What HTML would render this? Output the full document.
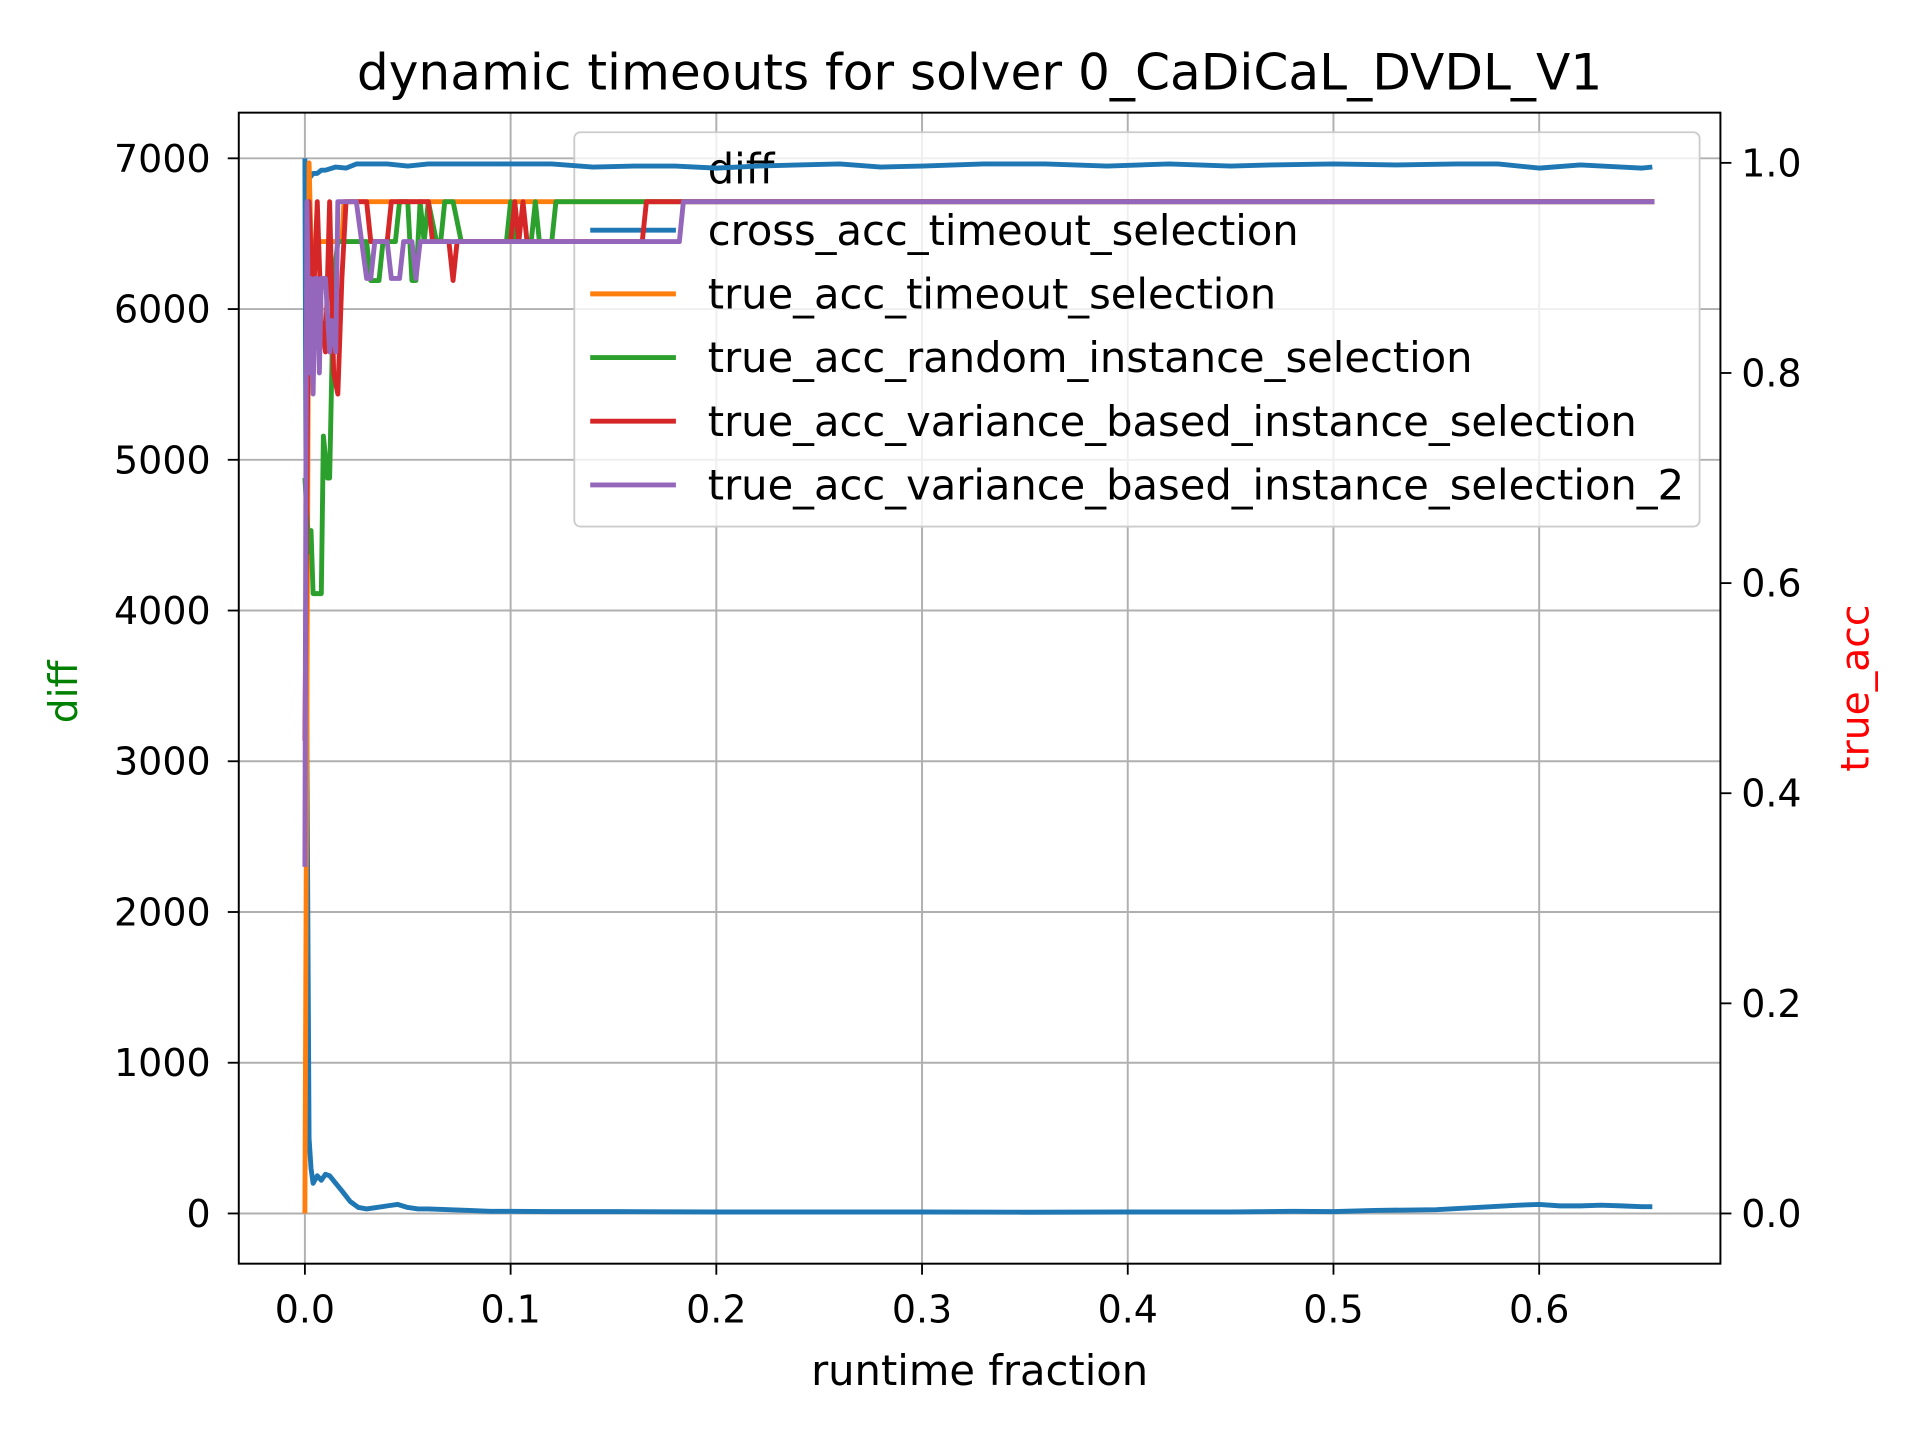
<!DOCTYPE html>
<html><head><meta charset="utf-8"><style>
html,body{margin:0;padding:0;background:#fff;}
svg{display:block;font-family:"DejaVu Sans","Liberation Sans",sans-serif;}
</style></head><body>
<svg id="chart" width="1920" height="1440" viewBox="0 0 1568 1176" xmlns="http://www.w3.org/2000/svg">
<rect width="1568" height="1176" fill="#fff"/>
<g id="grid"></g>
<g id="series-left"></g>
<g>
<rect x="469" y="108" width="919" height="322" rx="5" fill="#fff" fill-opacity="0.8" stroke="#ccc" stroke-width="1.5"/>
<text x="578" y="150" font-size="34">diff</text>
<g><line x1="482" y1="188" x2="552" y2="188" stroke="#1f77b4" stroke-width="4"/><text x="578" y="200" font-size="34">cross_acc_timeout_selection</text></g>
<g><line x1="482" y1="240" x2="552" y2="240" stroke="#ff7f0e" stroke-width="4"/><text x="578" y="252" font-size="34">true_acc_timeout_selection</text></g>
<g><line x1="482" y1="292" x2="552" y2="292" stroke="#2ca02c" stroke-width="4"/><text x="578" y="304" font-size="34">true_acc_random_instance_selection</text></g>
<g><line x1="482" y1="344" x2="552" y2="344" stroke="#d62728" stroke-width="4"/><text x="578" y="356" font-size="34">true_acc_variance_based_instance_selection</text></g>
<g><line x1="482" y1="396" x2="552" y2="396" stroke="#9467bd" stroke-width="4"/><text x="578" y="408" font-size="34">true_acc_variance_based_instance_selection_2</text></g>
</g>
<g id="series-right"></g>
<rect x="195" y="92" width="1210" height="940" fill="none" stroke="#000" stroke-width="1.6"/>
<g id="ticks"></g>
<text x="800" y="73" font-size="41" text-anchor="middle">dynamic timeouts for solver 0_CaDiCaL_DVDL_V1</text>
<text x="800" y="1131" font-size="34" text-anchor="middle">runtime fraction</text>
<text transform="translate(63,565) rotate(-90)" font-size="32" text-anchor="middle" fill="green">diff</text>
<text transform="translate(1526,562) rotate(-90)" font-size="32" text-anchor="middle" fill="red">true_acc</text>
</svg>
<script>
const xTicks=[0,0.1,0.2,0.3,0.4,0.5,0.6];
const xTickLabels=["0.0","0.1","0.2","0.3","0.4","0.5","0.6"];
const yLeftTicks=[0,1000,2000,3000,4000,5000,6000,7000];
const yRightTicks=[0,0.2,0.4,0.6,0.8,1.0];
const yRightLabels=["0.0","0.2","0.4","0.6","0.8","1.0"];
const diffX=[0,0.001,0.002,0.003,0.004,0.006,0.008,0.01,0.012,0.015,0.018,0.022,0.026,0.03,0.035,0.04,0.045,0.05,0.055,0.06,0.07,0.08,0.09,0.1,0.12,0.15,0.2,0.25,0.3,0.35,0.4,0.45,0.48,0.5,0.52,0.55,0.57,0.59,0.6,0.61,0.62,0.63,0.64,0.65,0.655];
const diffY=[7000,3000,500,300,200,250,220,260,250,200,150,80,40,30,40,50,60,40,30,30,25,20,15,15,12,12,10,10,10,8,10,10,15,12,20,25,40,55,60,50,50,55,50,45,45];
const crossX=[0.001,0.002,0.004,0.006,0.008,0.01,0.015,0.02,0.025,0.03,0.04,0.05,0.06,0.08,0.1,0.12,0.14,0.16,0.18,0.2,0.22,0.24,0.26,0.28,0.3,0.33,0.36,0.39,0.42,0.45,0.47,0.5,0.53,0.56,0.58,0.6,0.62,0.64,0.65,0.655];
const crossY=[0.97,0.985,0.99,0.99,0.993,0.993,0.996,0.995,0.999,0.999,0.999,0.997,0.999,0.999,0.999,0.999,0.996,0.997,0.997,0.995,0.997,0.998,0.999,0.996,0.997,0.999,0.999,0.997,0.999,0.997,0.998,0.999,0.998,0.999,0.999,0.995,0.998,0.996,0.995,0.996];
const orangeX=[0,0.002,0.003,0.006,0.018,0.019,0.656];
const orangeY=[0,1.0,0.925,0.925,0.925,0.963,0.963];
const greenX=[0,0.002,0.003,0.004,0.005,0.008,0.009,0.011,0.012,0.014,0.016,0.018,0.030,0.032,0.036,0.038,0.044,0.046,0.050,0.052,0.054,0.056,0.058,0.060,0.064,0.066,0.068,0.072,0.076,0.078,0.098,0.100,0.102,0.110,0.112,0.114,0.120,0.122,0.126,0.656];
const greenY=[0.70,0.63,0.65,0.59,0.59,0.59,0.74,0.70,0.70,0.89,0.925,0.925,0.925,0.888,0.888,0.925,0.925,0.963,0.963,0.888,0.888,0.963,0.925,0.963,0.925,0.925,0.963,0.963,0.925,0.925,0.925,0.963,0.925,0.925,0.963,0.925,0.925,0.963,0.963,0.963];
const redX=[0,0.002,0.004,0.006,0.008,0.010,0.012,0.014,0.016,0.018,0.020,0.022,0.030,0.032,0.040,0.042,0.060,0.062,0.070,0.072,0.074,0.100,0.102,0.104,0.106,0.108,0.164,0.166,0.656];
const redY=[0.45,0.963,0.86,0.963,0.85,0.82,0.963,0.80,0.78,0.89,0.963,0.963,0.963,0.925,0.925,0.963,0.963,0.925,0.925,0.888,0.925,0.925,0.963,0.925,0.963,0.925,0.925,0.963,0.963];
const purpleX=[0,0.0005,0.001,0.002,0.003,0.004,0.005,0.006,0.007,0.008,0.010,0.012,0.013,0.015,0.016,0.025,0.030,0.032,0.034,0.040,0.042,0.046,0.048,0.052,0.054,0.056,0.058,0.182,0.184,0.656];
const purpleY=[0.33,0.70,0.963,0.80,0.89,0.78,0.89,0.89,0.80,0.89,0.89,0.82,0.85,0.82,0.963,0.963,0.89,0.89,0.925,0.925,0.89,0.89,0.925,0.925,0.89,0.925,0.925,0.925,0.963,0.963];

const NS="http://www.w3.org/2000/svg";
const X=v=>249+v*1680;
const YL=v=>991-v*0.1231;
const YR=v=>991-v*858;
function mk(tag,attrs,parent){const e=document.createElementNS(NS,tag);for(const k in attrs)e.setAttribute(k,attrs[k]);parent.appendChild(e);return e;}
const grid=document.getElementById('grid'),ticks=document.getElementById('ticks');
const sL=document.getElementById('series-left'),sR=document.getElementById('series-right');
xTicks.forEach((t,i)=>{
  const g=mk('line',{x1:X(t),x2:X(t),y1:92,y2:1032,stroke:'#b0b0b0','stroke-width':1.6},grid);
  
  
  const tk=mk('line',{x1:X(t),x2:X(t),y1:1032,y2:1041,stroke:'#000','stroke-width':1.5},ticks);
  
  
  const tx=mk('text',{x:X(t),y:1080,'font-size':31,'text-anchor':'middle'},ticks);tx.textContent=xTickLabels[i];
  
  
});
yLeftTicks.forEach(t=>{
  const g=mk('line',{x1:195,x2:1405,y1:YL(t),y2:YL(t),stroke:'#b0b0b0','stroke-width':1.6},grid);
  
  
  const tk=mk('line',{x1:186,x2:195,y1:YL(t),y2:YL(t),stroke:'#000','stroke-width':1.5},ticks);
  
  
  const tx=mk('text',{x:172,y:YL(t)+11,'font-size':31,'text-anchor':'end'},ticks);tx.textContent=String(t);
  
  
});
yRightTicks.forEach((t,i)=>{
  const tk=mk('line',{x1:1405,x2:1414,y1:YR(t),y2:YR(t),stroke:'#000','stroke-width':1.5},ticks);
  
  
  const tx=mk('text',{x:1422,y:YR(t)+11,'font-size':31},ticks);tx.textContent=yRightLabels[i];
  
  
});
function line(xs,ys,fy,color,name,parent){
  const d=xs.map((x,i)=>(i?'L':'M')+X(x).toFixed(1)+','+fy(ys[i]).toFixed(1)).join(' ');
  const p=mk('path',{d:d,fill:'none',stroke:color,'stroke-width':4,'stroke-linejoin':'round'},parent);
  
  
}
line(diffX,diffY,YL,'#1f77b4','diff-line',sL);
line(crossX,crossY,YR,'#1f77b4','cross-acc-line',sR);
line(orangeX,orangeY,YR,'#ff7f0e','true-acc-timeout-line',sR);
line(greenX,greenY,YR,'#2ca02c','true-acc-random-line',sR);
line(redX,redY,YR,'#d62728','true-acc-variance-line',sR);
line(purpleX,purpleY,YR,'#9467bd','true-acc-variance-2-line',sR);
</script>
</body></html>
